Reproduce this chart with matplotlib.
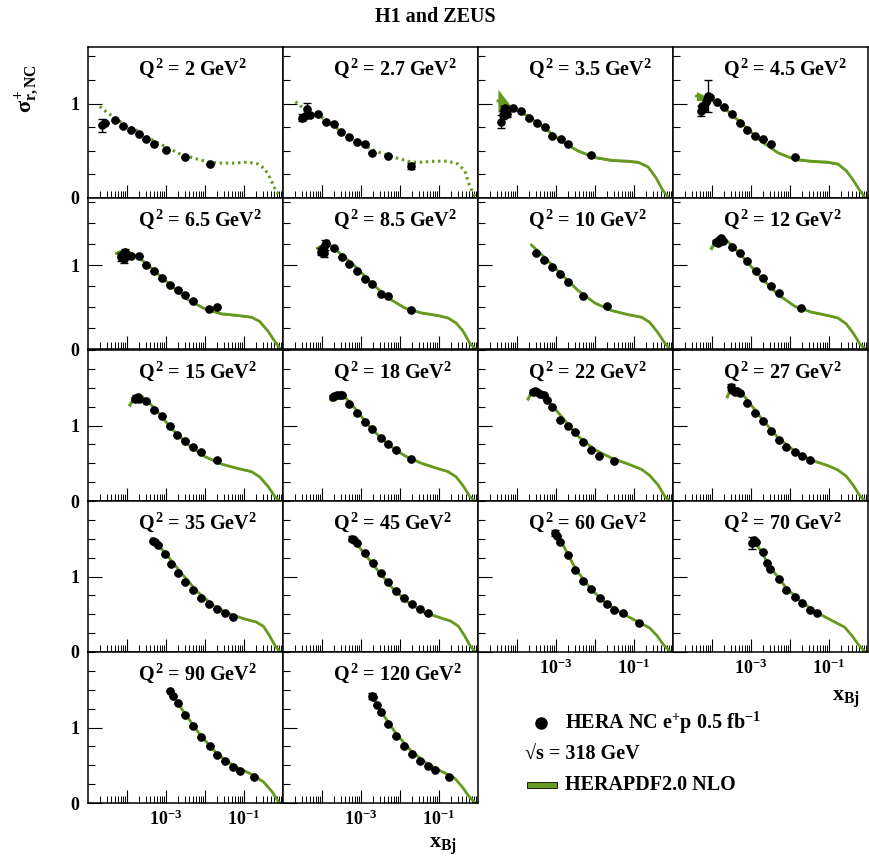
import numpy as np
import matplotlib
matplotlib.use('Agg')
import matplotlib.pyplot as plt
from matplotlib.ticker import FixedLocator, FixedFormatter, LogLocator, MultipleLocator, NullFormatter
from matplotlib.patches import Rectangle

plt.rcParams['font.family'] = 'Liberation Serif'
plt.rcParams['font.weight'] = 'bold'
plt.rcParams['mathtext.fontset'] = 'custom'
plt.rcParams['mathtext.rm'] = 'Liberation Serif:bold'
plt.rcParams['mathtext.it'] = 'Liberation Serif:bold'
plt.rcParams['mathtext.bf'] = 'Liberation Serif:bold'

GREEN = '#669a1e'

q2_labels = ['2', '2.7', '3.5', '4.5', '6.5', '8.5', '10', '12', '15', '18',
             '22', '27', '35', '45', '60', '70', '90', '120']
row_ymax = [1.6, 1.8, 2.0, 2.0, 2.0]
dotted_q2 = ['2', '2.7']

# data points: log10(x), sigma_r, error
pt_logx = [
    [-4.64, -4.56, -4.32, -4.10, -3.91, -3.70, -3.50, -3.31, -3.01, -2.50, -1.88],
    [-4.50, -4.43, -4.39, -4.32, -4.10, -3.89, -3.70, -3.50, -3.30, -3.09, -2.90, -2.71, -2.31, -1.71],
    [-4.40, -4.36, -4.33, -4.30, -4.26, -4.10, -3.89, -3.70, -3.49, -3.29, -3.09, -2.88, -2.70, -2.09],
    [-4.29, -4.26, -4.21, -4.16, -4.12, -4.09, -4.04, -3.88, -3.69, -3.49, -3.29, -3.09, -2.89, -2.69, -2.49, -1.88],
    [-4.15, -4.10, -4.08, -4.06, -4.02, -3.89, -3.70, -3.50, -3.31, -3.10, -2.90, -2.70, -2.50, -2.30, -1.89, -1.70],
    [-4.02, -3.97, -3.95, -3.93, -3.89, -3.69, -3.49, -3.30, -3.10, -2.91, -2.71, -2.50, -2.31, -1.71],
    [-3.50, -3.31, -3.09, -2.89, -2.70, -2.30, -1.68],
    [-3.89, -3.85, -3.83, -3.78, -3.72, -3.49, -3.29, -3.09, -2.88, -2.69, -2.48, -2.28, -1.71],
    [-3.80, -3.76, -3.72, -3.68, -3.50, -3.31, -3.10, -2.90, -2.71, -2.50, -2.30, -2.11, -1.70],
    [-3.72, -3.68, -3.61, -3.55, -3.49, -3.30, -3.10, -2.91, -2.71, -2.50, -2.31, -2.09, -1.71],
    [-3.59, -3.53, -3.48, -3.42, -3.31, -3.22, -3.09, -2.89, -2.70, -2.50, -2.30, -2.09, -1.89, -1.50],
    [-3.50, -3.49, -3.42, -3.35, -3.28, -3.09, -2.89, -2.69, -2.48, -2.28, -2.09, -1.88, -1.69, -1.49],
    [-3.33, -3.28, -3.20, -3.02, -2.86, -2.69, -2.50, -2.30, -2.10, -1.89, -1.70, -1.49, -1.29],
    [-3.23, -3.17, -3.10, -2.90, -2.70, -2.50, -2.30, -2.10, -1.90, -1.70, -1.50, -1.29],
    [-3.03, -2.98, -2.90, -2.70, -2.51, -2.30, -2.09, -1.87, -1.70, -1.50, -1.29, -0.87],
    [-2.97, -2.93, -2.88, -2.70, -2.60, -2.50, -2.28, -2.09, -1.87, -1.68, -1.49, -1.30],
    [-2.89, -2.83, -2.70, -2.50, -2.31, -2.10, -1.88, -1.68, -1.49, -1.29, -1.09, -0.74],
    [-2.72, -2.68, -2.60, -2.50, -2.30, -2.10, -1.89, -1.69, -1.49, -1.29, -1.09, -0.74],
]
pt_sigma = [
    [0.77, 0.79, 0.83, 0.76, 0.72, 0.68, 0.63, 0.57, 0.51, 0.43, 0.36],
    [0.85, 0.87, 0.94, 0.88, 0.89, 0.81, 0.78, 0.70, 0.65, 0.59, 0.57, 0.48, 0.45, 0.34],
    [0.81, 0.88, 0.93, 0.95, 0.89, 0.95, 0.92, 0.85, 0.79, 0.75, 0.66, 0.63, 0.57, 0.46],
    [0.92, 0.98, 0.95, 1.02, 1.05, 1.08, 1.07, 1.02, 0.96, 0.89, 0.80, 0.72, 0.66, 0.62, 0.57, 0.43],
    [1.10, 1.13, 1.07, 1.16, 1.12, 1.11, 1.11, 1.00, 0.93, 0.85, 0.76, 0.70, 0.64, 0.57, 0.48, 0.50],
    [1.16, 1.20, 1.14, 1.24, 1.26, 1.20, 1.10, 1.01, 0.93, 0.83, 0.77, 0.66, 0.63, 0.46],
    [1.14, 1.06, 0.98, 0.89, 0.80, 0.63, 0.51],
    [1.28, 1.26, 1.30, 1.32, 1.29, 1.22, 1.14, 1.05, 0.93, 0.85, 0.75, 0.67, 0.49],
    [1.35, 1.37, 1.38, 1.35, 1.33, 1.21, 1.12, 0.99, 0.88, 0.80, 0.72, 0.65, 0.54],
    [1.38, 1.39, 1.40, 1.40, 1.40, 1.29, 1.17, 1.05, 0.95, 0.84, 0.75, 0.68, 0.55],
    [1.45, 1.46, 1.44, 1.42, 1.40, 1.34, 1.24, 1.07, 1.00, 0.91, 0.78, 0.67, 0.60, 0.53],
    [1.51, 1.47, 1.45, 1.46, 1.43, 1.30, 1.17, 1.06, 0.93, 0.81, 0.72, 0.65, 0.59, 0.54],
    [1.47, 1.46, 1.42, 1.30, 1.17, 1.05, 0.93, 0.82, 0.72, 0.64, 0.57, 0.52, 0.47],
    [1.50, 1.49, 1.44, 1.31, 1.18, 1.05, 0.93, 0.81, 0.71, 0.63, 0.57, 0.52],
    [1.58, 1.53, 1.46, 1.28, 1.09, 0.94, 0.83, 0.72, 0.64, 0.56, 0.51, 0.39],
    [1.44, 1.48, 1.46, 1.32, 1.18, 1.10, 0.97, 0.82, 0.73, 0.65, 0.56, 0.52],
    [1.48, 1.42, 1.33, 1.16, 1.02, 0.88, 0.75, 0.64, 0.55, 0.48, 0.43, 0.34],
    [1.42, 1.40, 1.30, 1.20, 1.04, 0.89, 0.76, 0.65, 0.56, 0.49, 0.44, 0.34],
]
pt_err = [
    [0.07, 0, 0, 0, 0, 0, 0, 0, 0, 0, 0],
    [0.035, 0, 0.07, 0, 0, 0, 0, 0, 0, 0, 0, 0, 0, 0.03],
    [0.07, 0.04, 0.04, 0.03, 0.03, 0, 0, 0, 0, 0, 0, 0, 0, 0],
    [0.05, 0, 0, 0, 0, 0.17, 0, 0, 0, 0, 0, 0, 0, 0, 0, 0],
    [0.05, 0, 0.04, 0.03, 0, 0, 0, 0, 0, 0, 0, 0, 0, 0, 0, 0],
    [0.04, 0, 0.04, 0.06, 0, 0, 0, 0, 0, 0, 0, 0, 0, 0],
    [0, 0, 0, 0, 0, 0, 0],
    [0.02, 0.02, 0, 0, 0, 0, 0, 0, 0, 0, 0, 0, 0],
    [0.03, 0.03, 0, 0, 0, 0, 0, 0, 0, 0, 0, 0, 0],
    [0.02, 0, 0, 0, 0, 0, 0, 0, 0, 0, 0, 0, 0],
    [0.02, 0, 0, 0, 0, 0, 0, 0, 0, 0, 0, 0, 0, 0],
    [0.04, 0, 0, 0, 0, 0, 0, 0, 0, 0, 0, 0, 0, 0],
    [0, 0, 0, 0, 0, 0, 0, 0, 0, 0, 0, 0, 0],
    [0.03, 0, 0, 0, 0, 0, 0, 0, 0, 0, 0, 0],
    [0.04, 0, 0, 0, 0, 0, 0, 0, 0, 0, 0, 0],
    [0.08, 0, 0, 0, 0, 0, 0, 0, 0, 0, 0, 0],
    [0, 0, 0, 0, 0, 0, 0, 0, 0, 0, 0, 0],
    [0.04, 0, 0, 0, 0, 0, 0, 0, 0, 0, 0, 0],
]

# HERAPDF2.0 NLO curve: log10(x), central value
th_logx = [
    [-4.70, -4.49, -4.32, -4.06, -3.72, -3.29, -2.99, -2.61, -2.26, -1.92, -1.58, -1.24, -0.90, -0.64, -0.47, -0.34, -0.21, -0.06],
    [-4.68, -4.36, -4.02, -3.59, -3.16, -2.65, -2.14, -1.71, -1.45, -1.11, -0.77, -0.51, -0.34, -0.21, -0.06],
    [-4.49, -4.15, -3.72, -3.29, -2.86, -2.44, -2.01, -1.58, -1.15, -0.90, -0.64, -0.43, -0.26, -0.10],
    [-4.40, -4.02, -3.59, -3.16, -2.74, -2.31, -1.88, -1.45, -1.03, -0.77, -0.56, -0.38, -0.21, -0.07],
    [-4.27, -4.06, -3.72, -3.29, -2.86, -2.44, -2.01, -1.58, -1.15, -0.81, -0.60, -0.38, -0.21, -0.07],
    [-4.12, -3.85, -3.59, -3.16, -2.74, -2.31, -1.88, -1.45, -1.03, -0.77, -0.56, -0.38, -0.21, -0.07],
    [-3.63, -3.29, -2.86, -2.44, -2.01, -1.58, -1.15, -0.81, -0.60, -0.38, -0.21, -0.08],
    [-4.02, -3.85, -3.68, -3.42, -3.16, -2.74, -2.31, -1.88, -1.45, -1.03, -0.77, -0.56, -0.38, -0.21, -0.07],
    [-3.93, -3.80, -3.63, -3.29, -2.86, -2.44, -2.01, -1.58, -1.15, -0.81, -0.60, -0.38, -0.21, -0.09],
    [-3.78, -3.63, -3.42, -3.16, -2.74, -2.31, -1.88, -1.45, -1.03, -0.77, -0.56, -0.38, -0.21, -0.08],
    [-3.72, -3.59, -3.42, -3.29, -2.86, -2.44, -2.01, -1.58, -1.15, -0.81, -0.60, -0.38, -0.21, -0.09],
    [-3.61, -3.50, -3.33, -3.16, -2.74, -2.31, -1.88, -1.45, -1.03, -0.77, -0.56, -0.38, -0.21, -0.08],
    [-3.36, -3.00, -2.60, -2.20, -1.80, -1.40, -1.00, -0.70, -0.50, -0.35, -0.20, -0.07],
    [-3.26, -3.00, -2.60, -2.20, -1.80, -1.40, -1.00, -0.70, -0.50, -0.35, -0.20, -0.07],
    [-3.05, -2.80, -2.50, -2.10, -1.70, -1.30, -0.90, -0.60, -0.40, -0.25, -0.07],
    [-2.98, -2.80, -2.50, -2.10, -1.70, -1.30, -0.90, -0.60, -0.40, -0.25, -0.07],
    [-2.91, -2.55, -2.12, -1.69, -1.26, -0.84, -0.50, -0.28, -0.11, -0.07],
    [-2.75, -2.50, -2.10, -1.70, -1.30, -0.90, -0.60, -0.40, -0.25, -0.07],
]
th_sigma = [
    [0.97, 0.90, 0.85, 0.78, 0.71, 0.60, 0.54, 0.46, 0.42, 0.38, 0.37, 0.37, 0.38, 0.36, 0.31, 0.22, 0.10, 0.0],
    [1.02, 0.91, 0.86, 0.73, 0.61, 0.50, 0.43, 0.38, 0.38, 0.39, 0.39, 0.36, 0.29, 0.12, 0.0],
    [1.03, 0.96, 0.87, 0.74, 0.60, 0.50, 0.43, 0.40, 0.39, 0.38, 0.33, 0.21, 0.08, 0.0],
    [1.08, 1.04, 0.92, 0.76, 0.60, 0.48, 0.41, 0.39, 0.38, 0.36, 0.29, 0.19, 0.08, 0.0],
    [1.14, 1.18, 1.10, 0.93, 0.75, 0.59, 0.48, 0.42, 0.40, 0.38, 0.33, 0.21, 0.09, 0.0],
    [1.20, 1.26, 1.16, 0.99, 0.79, 0.61, 0.49, 0.43, 0.40, 0.37, 0.31, 0.21, 0.07, 0.0],
    [1.24, 1.09, 0.89, 0.70, 0.55, 0.46, 0.41, 0.38, 0.32, 0.19, 0.07, 0.0],
    [1.20, 1.32, 1.32, 1.20, 1.07, 0.85, 0.65, 0.51, 0.44, 0.40, 0.37, 0.30, 0.19, 0.06, 0.0],
    [1.27, 1.38, 1.39, 1.23, 0.96, 0.75, 0.59, 0.49, 0.43, 0.39, 0.32, 0.19, 0.06, 0.0],
    [1.34, 1.41, 1.38, 1.23, 0.96, 0.75, 0.60, 0.50, 0.43, 0.39, 0.32, 0.20, 0.06, 0.0],
    [1.35, 1.48, 1.45, 1.38, 1.12, 0.86, 0.68, 0.57, 0.49, 0.42, 0.34, 0.21, 0.06, 0.0],
    [1.38, 1.51, 1.48, 1.38, 1.10, 0.84, 0.66, 0.54, 0.47, 0.41, 0.33, 0.21, 0.07, 0.0],
    [1.50, 1.30, 1.04, 0.80, 0.62, 0.51, 0.44, 0.40, 0.34, 0.22, 0.08, 0.0],
    [1.52, 1.36, 1.10, 0.85, 0.66, 0.53, 0.46, 0.41, 0.34, 0.22, 0.08, 0.0],
    [1.60, 1.40, 1.10, 0.83, 0.64, 0.51, 0.40, 0.32, 0.21, 0.10, 0.0],
    [1.50, 1.38, 1.12, 0.85, 0.66, 0.52, 0.41, 0.33, 0.21, 0.10, 0.0],
    [1.49, 1.21, 0.90, 0.65, 0.49, 0.39, 0.28, 0.15, 0.01, 0.0],
    [1.44, 1.22, 0.92, 0.68, 0.52, 0.41, 0.33, 0.21, 0.10, 0.0],
]
# extra band half-width at the low-x end of the curve
th_edge_hw = [0, 0, 0.11, 0.035, 0.02, 0.02, 0, 0.02, 0.02, 0.02, 0.02, 0.02,
              0, 0, 0, 0, 0, 0]

W, H = 870, 864
fig = plt.figure(figsize=(W / 100, H / 100), dpi=100)

col_left = [88, 283, 478, 673]
row_top = [47, 198, 350, 501, 652]
pw, ph = 195, 151
xlabel_panels = [16, 17, 14, 15]

for i, q in enumerate(q2_labels):
    r, c = divmod(i, 4)
    ax = fig.add_axes([col_left[c] / W, 1 - (row_top[r] + ph) / H, pw / W, ph / H])
    ax.set_xscale('log')
    ax.set_xlim(1e-5, 1)
    ax.set_ylim(0, row_ymax[r])

    lx = np.array(th_logx[i])
    xs = 10 ** lx
    ys = np.array(th_sigma[i])
    if q in dotted_q2:
        ax.plot(xs, ys, color=GREEN, lw=2.2, ls=(0, (0.8, 1.2)), zorder=2)
    else:
        hw = np.full(len(ys), 0.012)
        hw[0] += th_edge_hw[i]
        ax.fill_between(xs, ys - hw, ys + hw, color=GREEN, lw=0, zorder=2)
        ax.plot(xs, ys, color=GREEN, lw=2.0, zorder=2)

    px = 10 ** np.array(pt_logx[i])
    py = np.array(pt_sigma[i])
    pe = np.array(pt_err[i])
    ax.errorbar(px, py, yerr=pe, fmt='none', ecolor='black', elinewidth=1.0,
                capsize=3, capthick=1.0, zorder=3)
    ax.plot(px, py, 'o', color='black', ms=5.2, zorder=4)

    ax.text(50 / pw, 1 - 21 / ph, r'$Q^{2}$ = ' + q + r' GeV$^{2}$', transform=ax.transAxes,
            ha='left', va='center', fontsize=14.5, fontweight='bold')

    ax.xaxis.set_major_locator(FixedLocator([1e-4, 1e-3, 1e-2, 1e-1]))
    ax.xaxis.set_minor_locator(LogLocator(base=10, subs=np.arange(2, 10), numticks=20))
    ax.xaxis.set_minor_formatter(NullFormatter())
    if i in xlabel_panels:
        ax.xaxis.set_major_formatter(FixedFormatter(['', r'$10^{-3}$', '', r'$10^{-1}$']))
    else:
        ax.xaxis.set_major_formatter(NullFormatter())
    ax.yaxis.set_major_locator(FixedLocator([0, 1]))
    ax.yaxis.set_minor_locator(MultipleLocator(0.25))
    if c == 0:
        ax.yaxis.set_major_formatter(FixedFormatter(['0', '1']))
    else:
        ax.yaxis.set_major_formatter(NullFormatter())
    ax.tick_params(axis='x', which='major', direction='in', length=9.5, width=0.8,
                   top=False, labelsize=13, pad=5)
    ax.tick_params(axis='x', which='minor', direction='in', length=4.8, width=0.7, top=False)
    ax.tick_params(axis='y', which='major', direction='in', length=10, width=0.8,
                   right=False, labelsize=13, pad=6)
    ax.tick_params(axis='y', which='minor', direction='in', length=5, width=0.8, right=False)
    for s in ax.spines.values():
        s.set_linewidth(1.1)
        s.set_color('black')

# overlay for titles, axis labels and legend (pixel coordinates)
ov = fig.add_axes([0, 0, 1, 1], facecolor='none')
ov.set_xlim(0, W)
ov.set_ylim(H, 0)
ov.axis('off')
ov.text(435, 17, 'H1 and ZEUS', ha='center', va='center', fontsize=14.5, fontweight='bold')
ov.text(27, 89, r'$\sigma^{+}_{r,NC}$', ha='center', va='center', rotation=90, fontsize=16)
ov.text(443, 846, r'$x_{Bj}$', ha='center', va='center', fontsize=16)
ov.text(846, 699, r'$x_{Bj}$', ha='center', va='center', fontsize=16)

ov.plot([541], [723], 'o', color='black', ms=8)
ov.text(565, 723, r'HERA NC e$^{+}$p 0.5 fb$^{-1}$', ha='left', va='center', fontsize=14.5)
ov.text(525, 755, '\u221as = 318 GeV', ha='left', va='center', fontsize=14.5)
ov.add_patch(Rectangle((527, 782), 30, 6, facecolor=GREEN, edgecolor='black', lw=0.6))
ov.text(565, 785, 'HERAPDF2.0 NLO', ha='left', va='center', fontsize=14.5)

fig.savefig('out.png', dpi=100)
